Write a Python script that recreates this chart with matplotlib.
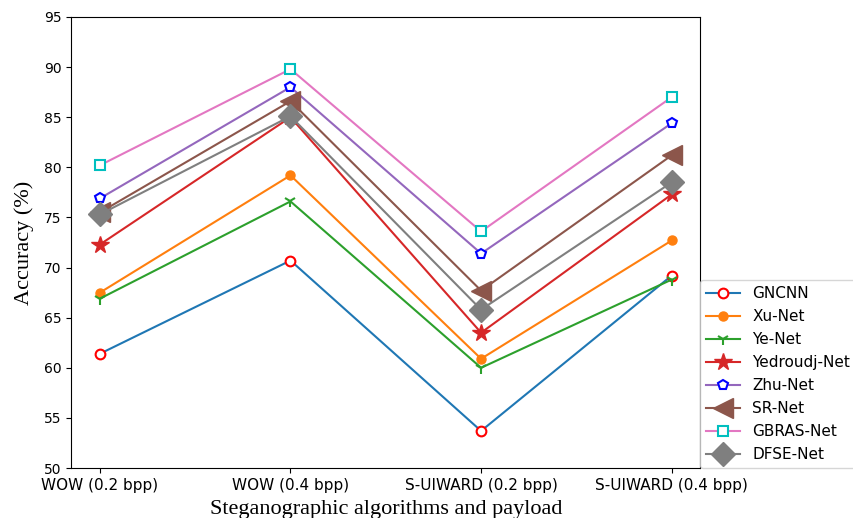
import matplotlib
matplotlib.use("Agg")
import matplotlib.pyplot as plt

# steganographic algorithm / payload on the x axis
algorithms = ["WOW (0.2 bpp)", "WOW (0.4 bpp)", "S-UIWARD (0.2 bpp)", "S-UIWARD (0.4 bpp)"]

# accuracy (%)
gncnn = [61.4, 70.7, 53.7, 69.2]
xu_net = [67.5, 79.2, 60.9, 72.7]
ye_net = [66.9, 76.6, 60.0, 68.8]
yedroudj_net = [72.3, 85.0, 63.5, 77.3]
zhu_net = [76.9, 88.0, 71.4, 84.4]
sr_net = [75.5, 86.6, 67.7, 81.2]
gbras_net = [80.2, 89.8, 73.6, 87.0]
dfse_net = [75.3, 85.1, 65.8, 78.5]

x = range(len(algorithms))

fig = plt.figure(figsize=(8.54, 5.18), dpi=100)
ax = fig.add_axes([0.0835, 0.0965, 0.7365, 0.8707])

ax.plot(x, gncnn, color="tab:blue", marker="o", ms=7, mfc="white", mec="red", mew=1.5, label="GNCNN")
ax.plot(x, xu_net, color="tab:orange", marker="o", ms=6.5, label="Xu-Net")
ax.plot(x, ye_net, color="tab:green", marker="1", ms=9, mew=1.5, label="Ye-Net")
ax.plot(x, yedroudj_net, color="tab:red", marker="*", ms=13, label="Yedroudj-Net")
ax.plot(x, zhu_net, color="tab:purple", marker="p", ms=7, mfc="white", mec="blue", mew=1.5, label="Zhu-Net")
ax.plot(x, sr_net, color="tab:brown", marker="<", ms=14, label="SR-Net")
ax.plot(x, gbras_net, color="tab:pink", marker="s", ms=7, mfc="white", mec="c", mew=1.5, label="GBRAS-Net")
ax.plot(x, dfse_net, color="tab:gray", marker="D", ms=12, label="DFSE-Net")

ax.set_ylim(50, 95)
ax.set_yticks(range(50, 96, 5))
ax.set_xticks(list(x))
ax.set_xticklabels(algorithms)
ax.tick_params(axis="x", labelsize=11)
ax.tick_params(axis="y", labelsize=10)

ax.set_ylabel("Accuracy (%)", fontsize=16, family="Liberation Serif", labelpad=7)
ax.set_xlabel("Steganographic algorithms and payload", fontsize=16, family="Liberation Serif", labelpad=5)

ax.legend(loc="lower left", bbox_to_anchor=(1.0, 0.0), borderaxespad=0,
          fontsize=11, handlelength=2.2, labelspacing=0.52)

fig.savefig("out.png", dpi=100)
